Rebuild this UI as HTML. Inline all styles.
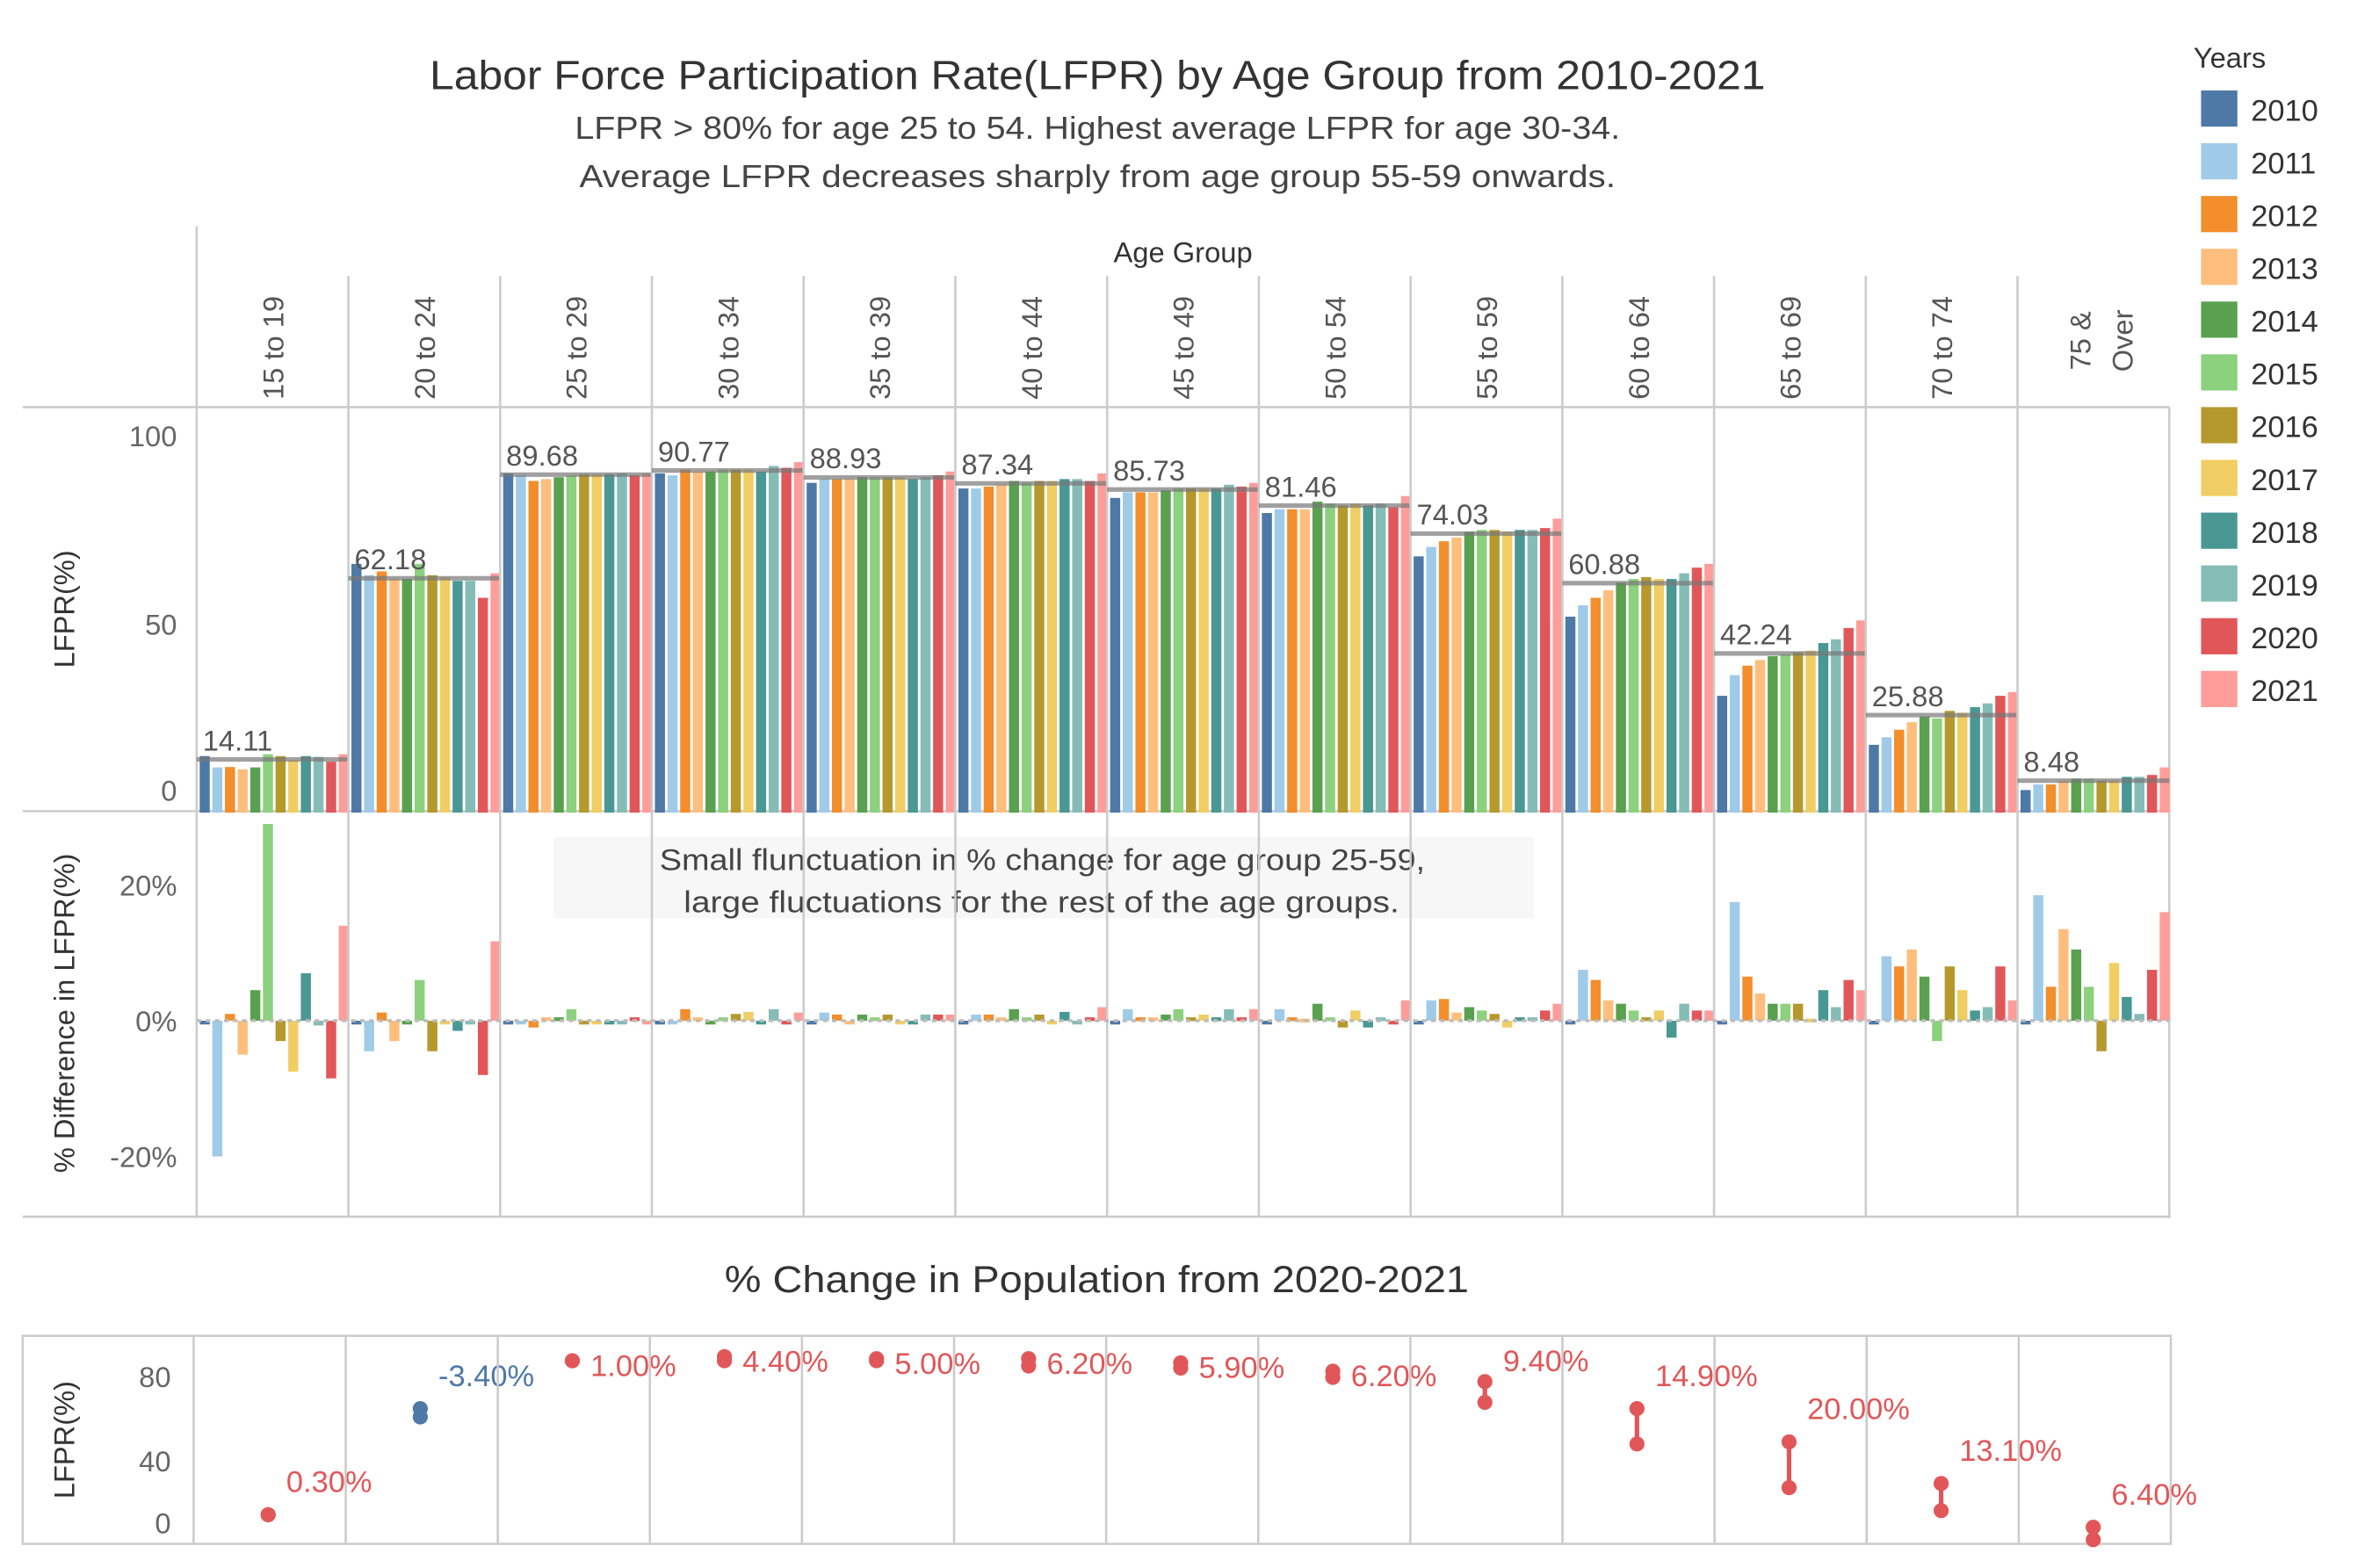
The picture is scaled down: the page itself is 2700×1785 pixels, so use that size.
<!DOCTYPE html>
<html><head><meta charset="utf-8"><style>
html,body{margin:0;padding:0;background:#fff;width:2700px;height:1785px;overflow:hidden}
svg{display:block}
text{font-family:"Liberation Sans",sans-serif}
</style></head><body>
<svg id="chart" width="2700" height="1785" viewBox="0 0 1568 1040" preserveAspectRatio="none" xmlns="http://www.w3.org/2000/svg">
<g id="static">
<text x="284" y="59" textLength="883" lengthAdjust="spacingAndGlyphs" font-size="27" fill="#333">Labor Force Participation Rate(LFPR) by Age Group from 2010-2021</text>
<text x="380" y="92" textLength="691" lengthAdjust="spacingAndGlyphs" font-size="21" fill="#444">LFPR &gt; 80% for age 25 to 54. Highest average LFPR for age 30-34.</text>
<text x="383" y="124" textLength="685" lengthAdjust="spacingAndGlyphs" font-size="21" fill="#444">Average LFPR decreases  sharply from age group 55-59 onwards.</text>
<text x="782" y="174" text-anchor="middle" font-size="19" fill="#333">Age Group</text>
<text transform="translate(49,404) rotate(-90)" text-anchor="middle" font-size="19" fill="#333">LFPR(%)</text>
<text transform="translate(49,672) rotate(-90)" text-anchor="middle" font-size="19" fill="#333">% Difference in LFPR(%)</text>
<text x="479" y="857" textLength="492" lengthAdjust="spacingAndGlyphs" font-size="25" fill="#333">% Change in Population from 2020-2021</text>
<text transform="translate(49,955) rotate(-90)" text-anchor="middle" font-size="19" fill="#333">LFPR(%)</text>
<text x="1450" y="45" font-size="19" fill="#333">Years</text>
</g>
<g id="dyn"></g>
</svg>
<script>
const groups=["15 to 19","20 to 24","25 to 29","30 to 34","35 to 39","40 to 44","45 to 49","50 to 54","55 to 59","60 to 64","65 to 69","70 to 74","75 & Over"];
const years=["2010","2011","2012","2013","2014","2015","2016","2017","2018","2019","2020","2021"];
const colors=["#4e79a7","#a0cbe8","#f28e2b","#ffbe7d","#59a14f","#8cd17d","#b6992d","#f1ce63","#499894","#86bcb6","#e15759","#ff9d9a"];
const lfpr=[
[15,12,12.1,11.5,12,15.5,15,14,15,14.8,13.5,15.5],
[66,63,64,62,62,66,63,62.5,61.5,61.5,57,63.5],
[90,89.5,88,88.5,89,89.5,89.8,89.8,89.8,90,89.5,90],
[90,89.5,91,90.5,90.5,91,91,91,90.5,92,91.5,93],
[87.5,88.5,88.5,88.5,89,89,89,89,88.5,89,89.5,90.5],
[86,86,86.5,87,88,87.5,88,88,88.5,88.5,88,90],
[83.5,85,85,85,85.5,86,86,86,86,87,86.5,87.5],
[79.5,80.5,80.5,80.5,82.5,82,81.5,82,81.5,82,81,84],
[68,70.5,72,73,74.5,75,75,74.5,75,75,75.5,78],
[52,55,57,59,61,62,62.5,62,62,63.5,65,66],
[31,36.5,39,40.5,41.5,42,42.5,43,45,46,49,51],
[18,20,22,24,25.5,25,27,26.5,28,29,31,32],
[6,7.5,7.5,8.5,9,9,8.5,8.5,9.5,9.5,10,12]];
const averages=[14.11,62.18,89.68,90.77,88.93,87.34,85.73,81.46,74.03,60.88,42.24,25.88,8.48];
const pctDiff=[
[0,-20,1,-5,4.5,29,-3,-7.5,7,-0.7,-8.5,14],
[0,-4.5,1.2,-3,-0.3,6,-4.5,-0.3,-1.5,-0.3,-8,11.7],
[0,-0.3,-1,0.5,0.5,1.7,-0.3,-0.3,-0.3,-0.3,0.5,-0.3],
[0,-0.3,1.7,0.5,-0.3,0.5,1,1.3,-0.5,1.7,-0.3,1.2],
[0,1.2,0.9,-0.3,0.9,0.5,0.9,-0.3,-0.5,0.9,0.9,0.9],
[0,0.9,0.9,0.5,1.7,0.5,0.9,-0.3,1.3,-0.3,0.5,2],
[0,1.7,0.5,0.5,0.9,1.7,0.5,0.9,0.5,1.7,0.5,1.7],
[0,1.7,0.5,0.3,2.5,0.5,-1,1.5,-1,0.5,-0.5,3],
[0,3,3.2,1.2,2,1.5,1,-1,0.5,0.5,1.5,2.5],
[0,7.5,6,3,2.5,1.5,0.5,1.5,-2.5,2.5,1.5,1.5],
[0,17.5,6.5,4,2.5,2.5,2.5,0.3,4.5,2,6,4.5],
[0,9.5,8,10.5,6.5,-3,8,4.5,1.5,2,8,3],
[0,18.5,5,13.5,10.5,5,-4.5,8.5,3.5,1,7.5,16]];
const pop2020=[14,65,88,90,89,89,87,83,78,65,49,29,8];
const pop2021=[14,61,88,88,88,85.5,84.5,80,68,48,27,16,2];
const popLabels=["0.30%","-3.40%","1.00%","4.40%","5.00%","6.20%","5.90%","6.20%","9.40%","14.90%","20.00%","13.10%","6.40%"];
const lfprTicks=[0,50,100];
const diffTicks=[-20,0,20];
const popTicks=[0,40,80];

const NS="http://www.w3.org/2000/svg";
const g=document.getElementById('dyn');
function mk(t,a,txt){const e=document.createElementNS(NS,t);for(const k in a)e.setAttribute(k,a[k]);if(txt!=null)e.textContent=txt;g.appendChild(e);return e;}
const X0=130,X1=1434,GW=(X1-X0)/groups.length;
const yTop=v=>539-v*2.5;
const yDiff=v=>677-v*4.5;
const yPop=v=>1024-v*1.38;
const barX=(gi,yi)=>X0+gi*GW+2+yi*GW/12;
const BW=GW/12-1.7;

let e=mk('line',{x1:130,y1:150,x2:130,y2:808,stroke:'#ccc','stroke-width':1.5});

[270,538,807].forEach(y=>{e=mk('line',{x1:15,y1:y,x2:1434,y2:y,stroke:'#ccc','stroke-width':1.5});
});
e=mk('line',{x1:1434,y1:270,x2:1434,y2:808,stroke:'#ccc','stroke-width':1.5});

e=mk('rect',{x:366,y:555,width:648,height:54,fill:'#f7f7f7'});

e=mk('text',{x:436,y:577,textLength:506,lengthAdjust:'spacingAndGlyphs','font-size':20,fill:'#444'},'Small flunctuation in % change for age group 25-59,');

e=mk('text',{x:452,y:605,textLength:473,lengthAdjust:'spacingAndGlyphs','font-size':20,fill:'#444'},'large fluctuations for the rest of the age groups.');


groups.forEach((name,gi)=>{
 const gx=X0+gi*GW;
 if(gi>0){e=mk('line',{x1:gx,y1:183,x2:gx,y2:807,stroke:'#ccc','stroke-width':1.5});
 }
 const cx=gx+GW/2;
 if(name==="75 & Over"){
  e=mk('text',{transform:`translate(${cx+2},226) rotate(-90)`,'text-anchor':'middle','font-size':19,fill:'#555'});
  
  const t1=document.createElementNS(NS,'tspan');t1.setAttribute('x',0);t1.setAttribute('dy',-4);t1.textContent='75 &';e.appendChild(t1);
  const t2=document.createElementNS(NS,'tspan');t2.setAttribute('x',0);t2.setAttribute('dy',28);t2.textContent='Over';e.appendChild(t2);
 } else {
  e=mk('text',{transform:`translate(${cx+7},265) rotate(-90)`,'font-size':19,fill:'#555'},name);
  
 }
 years.forEach((yr,yi)=>{
  const x=barX(gi,yi),v=lfpr[gi][yi];
  e=mk('rect',{x:x,y:yTop(v),width:BW,height:539-yTop(v),fill:colors[yi]});
  
  const d=pctDiff[gi][yi];const y0=yDiff(0),y1=yDiff(d);
  e=mk('rect',{x:x,y:Math.min(y0,y1),width:BW,height:Math.max(Math.abs(y1-y0),2.5),fill:colors[yi]});
  
 });
 const ay=yTop(averages[gi]);
 e=mk('line',{x1:gx,y1:ay,x2:gx+GW,y2:ay,stroke:'#777','stroke-width':3,'stroke-opacity':0.7});
 
 e=mk('text',{x:gx+4,y:ay-6,'font-size':19,fill:'#555'},averages[gi].toFixed(2));
 
});
e=mk('line',{x1:130,y1:yDiff(0),x2:1434,y2:yDiff(0),stroke:'#bbb','stroke-width':2,'stroke-dasharray':'3,3'});

lfprTicks.forEach(t=>{e=mk('text',{x:117,y:t===0?531:yTop(t)+7,'text-anchor':'end','font-size':19,fill:'#666'},String(t));
 });
diffTicks.forEach(t=>{e=mk('text',{x:117,y:yDiff(t)+7,'text-anchor':'end','font-size':19,fill:'#666'},t+'%');
 });

e=mk('rect',{x:15,y:886,width:1420,height:138,fill:'none',stroke:'#ccc','stroke-width':1.5});

const PX0=128,PGW=(1435-128)/13;
const popTickY={0:1017,40:976,80:920};
popTicks.forEach(t=>{e=mk('text',{x:113,y:popTickY[t]!==undefined?popTickY[t]:yPop(t)+7,'text-anchor':'end','font-size':19,fill:'#666'},String(t));
 });
groups.forEach((name,gi)=>{
 const gx=PX0+gi*PGW;
 e=mk('line',{x1:gx,y1:886,x2:gx,y2:1024,stroke:'#ccc','stroke-width':1.5});
 
 const cx=gx+PGW/2-1;
 const col=popLabels[gi].startsWith('-')?'#4e79a7':'#e15759';
 const ya=yPop(pop2020[gi]),yb=yPop(pop2021[gi]);
 e=mk('line',{x1:cx,y1:ya,x2:cx,y2:yb,stroke:col,'stroke-width':3});
 
 e=mk('circle',{cx:cx,cy:ya,r:5,fill:col});
 
 e=mk('circle',{cx:cx,cy:yb,r:5,fill:col});
 
 const top=Math.min(ya,yb);
 let ly;
 if(gi>=2&&gi<=7) ly=top+10; else if(gi===8) ly=top-7; else ly=top-15;
 e=mk('text',{x:cx+12,y:ly,'font-size':20,fill:col},popLabels[gi]);
 
});

years.forEach((yr,yi)=>{
 const y=60+yi*35;
 e=mk('rect',{x:1455,y:y,width:24,height:24,fill:colors[yi]});
 
 e=mk('text',{x:1488,y:y+20,'font-size':20,fill:'#333'},yr);
 
});
</script>
</body></html>
